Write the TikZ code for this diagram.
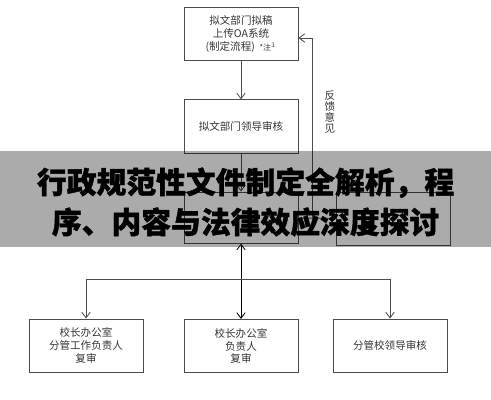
\documentclass[tikz,border=0pt]{standalone}
\usepackage{fontspec}
\newfontfamily\cjk{Noto Sans CJK SC}
\newfontfamily\cjkheavy{Noto Sans CJK SC}[BoldFeatures={FakeBold=1.3}]
\usetikzlibrary{arrows.meta,positioning}
\begin{document}
\begin{tikzpicture}[
    stepbox/.style={rectangle, draw=black!70, line width=0.6pt, minimum width=2.85cm, minimum height=1.33cm, align=center, font=\cjk\fontsize{7.5}{9.2}\selectfont, text=black!80},
    arrow/.style={-{Straight Barb[length=4pt,width=6pt]}, line width=0.6pt, draw=black!70},
    link/.style={line width=0.6pt, draw=black!70}
]
\useasboundingbox (0,0) rectangle (12.275,10);

% top chain
\node[stepbox] (draft) at (6.025,9.15) {拟文部门拟稿\\上传OA系统\\(制定流程)\ \ {\fontsize{5.5}{5.5}\selectfont *注$^1$}};
\node[stepbox] (dept) at (6.025,6.84) {拟文部门领导审核};
\node[stepbox, minimum height=1.28cm] (office) at (6.025,4.56) {};
\node[stepbox] (legal) at (9.84,4.53) {};

% bottom row
\node[stepbox] (deputy) at (2.15,1.36) {校长办公室\\分管工作负责人\\复审};
\node[stepbox] (head) at (6.025,1.35) {校长办公室\\负责人\\复审};
\node[stepbox] (leader) at (9.75,1.36) {分管校领导审核};

% connectors
\draw[arrow] (draft) -- (dept);
\draw[arrow] (dept) -- (office);
\draw[link] (office) -- (legal);
\coordinate (fb) at (7.8,4.56);
\draw[arrow] (fb) |- ([yshift=-0.1cm]draft.east);
\node[font=\cjk\fontsize{7.5}{7.8}\selectfont, text=black!80, align=center] (note) at (8.25,7.2) {反\\馈\\意\\见};

\coordinate (split) at (6.025,3.025);
\draw[{Straight Barb[length=4pt,width=6pt]}-{Straight Barb[length=4pt,width=6pt]}, line width=0.6pt, black] (office) -- (head);
\draw[arrow] (split) -| (deputy.north);
\draw[arrow] (split) -| (leader.north);

% banner over the middle
\fill[black, fill opacity=0.33] (0,3.825) rectangle (12.275,6.225);
\node[font=\cjkheavy\bfseries\fontsize{21.2}{28.45}\selectfont, align=center] (title) at (6.14,4.95) {行政规范性文件制定全解析，程\\序、内容与法律效应深度探讨};

\end{tikzpicture}
\end{document}
